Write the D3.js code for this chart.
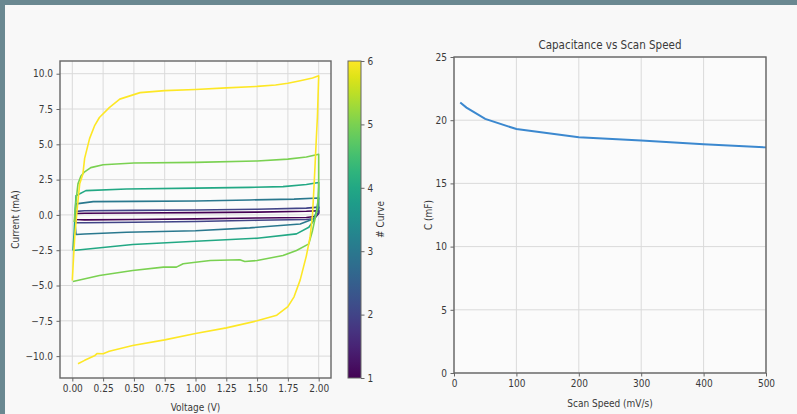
<!DOCTYPE html>
<html>
<head>
<meta charset="utf-8">
<script src="https://cdn.jsdelivr.net/npm/d3@7"></script>
<style>
  html, body { margin: 0; padding: 0; background: #f8f8f8; }
  svg { display: block; }
  text { font-family: "DejaVu Sans", sans-serif; font-stretch: condensed; fill: #3a3a3a; }
</style>
</head>
<body>
<svg id="chart" width="797" height="414"></svg>
<script>
// --- DATA --------------------------------------------------------------------
// CV loops, [voltage V, current mA], one per curve number
const cv1 = [[0.02,-0.05],[0.03,0.1],[0.1,0.12],[0.5,0.14],[1.0,0.16],[1.5,0.2],[1.9,0.26],[2.0,0.3],
  [2.0,0.1],[1.98,-0.1],[1.9,-0.18],[1.5,-0.22],[1.0,-0.28],[0.5,-0.32],[0.1,-0.35],[0.03,-0.33],[0.02,-0.05]];
const cv2 = [[0.02,-0.1],[0.03,0.25],[0.1,0.3],[0.5,0.32],[1.0,0.35],[1.5,0.4],[1.9,0.48],[2.0,0.55],
  [2.0,0.2],[1.97,-0.25],[1.9,-0.32],[1.5,-0.38],[1.0,-0.47],[0.5,-0.52],[0.1,-0.56],[0.03,-0.55],[0.02,-0.1]];
const cv3 = [[0.02,-0.4],[0.03,0.78],[0.17,0.94],[0.5,0.96],[1.0,0.98],[1.44,1.06],[1.8,1.12],[2.0,1.2],
  [2.0,0.5],[1.96,-0.28],[1.85,-0.64],[1.44,-0.92],[1.0,-1.12],[0.44,-1.23],[0.1,-1.35],[0.03,-1.39],[0.02,-0.4]];
const cv4 = [[0.005,-2.52],[0.015,-1.2],[0.025,0.6],[0.03,1.36],[0.11,1.72],[0.44,1.84],[1.0,1.9],[1.44,1.95],[1.71,2.0],[1.9,2.15],[2.0,2.3],
  [2.0,1.2],[1.98,0.2],[1.96,-0.4],[1.92,-0.87],[1.82,-1.34],[1.5,-1.65],[1.0,-1.86],[0.49,-2.1],[0.005,-2.52]];
const cv5 = [[0.015,-0.5],[0.03,1.0],[0.046,2.2],[0.07,2.75],[0.1,3.05],[0.15,3.35],[0.25,3.55],[0.5,3.68],[1.0,3.72],[1.5,3.82],[1.75,3.95],[1.9,4.1],[2.0,4.3],
  [2.0,2.0],[1.99,0.5],[1.97,-0.3],[1.95,-1.1],[1.92,-2.05],[1.82,-2.52],[1.71,-2.88],[1.5,-3.23],[1.4,-3.3],[1.36,-3.18],[1.12,-3.23],[1.0,-3.35],[0.9,-3.46],[0.845,-3.7],[0.74,-3.7],[0.49,-3.94],[0.22,-4.29],[0.005,-4.71]];
const cv6 = [[0.0,-4.65],[0.01,-3.0],[0.02,-1.5],[0.035,0],[0.046,1.0],[0.06,2.2],[0.086,2.9],[0.1,4.0],[0.14,5.4],[0.18,6.3],[0.22,6.9],[0.3,7.6],[0.385,8.2],[0.55,8.66],[0.75,8.8],[1.0,8.88],[1.25,9.0],[1.5,9.1],[1.65,9.2],[1.75,9.32],[1.85,9.5],[1.95,9.7],[2.0,9.85],
  [1.99,7.0],[1.98,5.25],[1.965,2.5],[1.95,0],[1.93,-1.58],[1.9,-2.9],[1.85,-4.6],[1.8,-5.8],[1.75,-6.5],[1.66,-7.1],[1.5,-7.5],[1.25,-8.0],[1.0,-8.4],[0.75,-8.85],[0.49,-9.25],[0.3,-9.65],[0.25,-9.83],[0.2,-9.82],[0.18,-9.98],[0.1,-10.3],[0.046,-10.54]];
const cvCurves = [cv1, cv2, cv3, cv4, cv5, cv6];
const curveIds = [1, 2, 3, 4, 5, 6];

const cvXTicks = [0, 0.25, 0.5, 0.75, 1.0, 1.25, 1.5, 1.75, 2.0];
const cvYTicks = [-10, -7.5, -5, -2.5, 0, 2.5, 5, 7.5, 10];

// capacitance vs scan speed
const scanSpeed = [10, 20, 50, 100, 200, 300, 400, 500];
const capacitance = [21.4, 21.0, 20.1, 19.3, 18.65, 18.4, 18.1, 17.85];
const capXTicks = [0, 100, 200, 300, 400, 500];
const capYTicks = [0, 5, 10, 15, 20, 25];

// --- STYLE -------------------------------------------------------------------
const GRID = '#dadada';
const SPINE = '#666';
const TICK_FS = 10;
const LABEL_FS = 10;

const svg = d3.select('#chart');
const fmtMinus = s => s.replace('-', '\u2212');

// page frame
svg.append('rect').attr('width', 797).attr('height', 414).attr('fill', '#f8f8f8');
svg.append('rect').attr('width', 797).attr('height', 5).attr('fill', '#6a8891');
svg.append('rect').attr('width', 5).attr('height', 414).attr('fill', '#6a8891');

function drawAxes(x, y, xTicks, yTicks, xFmt, yFmt) {
  const [x0, x1] = x.range(), [y0, y1] = y.range();
  const g = svg.append('g');
  g.append('rect').attr('x', x0).attr('y', y1).attr('width', x1 - x0).attr('height', y0 - y1).attr('fill', '#fbfbfb');
  g.selectAll('line.gx').data(xTicks).join('line')
    .attr('x1', d => x(d)).attr('x2', d => x(d)).attr('y1', y1).attr('y2', y0)
    .attr('stroke', GRID).attr('stroke-width', 1);
  g.selectAll('line.gy').data(yTicks).join('line')
    .attr('class', 'gy')
    .attr('y1', d => y(d)).attr('y2', d => y(d)).attr('x1', x0).attr('x2', x1)
    .attr('stroke', GRID).attr('stroke-width', 1);

  const ax = svg.append('g').attr('transform', `translate(0,${y0})`)
    .call(d3.axisBottom(x).tickValues(xTicks).tickFormat(xFmt).tickSize(3.5).tickPadding(3.5));
  const ay = svg.append('g').attr('transform', `translate(${x0},0)`)
    .call(d3.axisLeft(y).tickValues(yTicks).tickFormat(yFmt).tickSize(3.5).tickPadding(3.5));
  [ax, ay].forEach(a => {
    a.select('.domain').remove();
    a.selectAll('line').attr('stroke', SPINE);
    a.selectAll('text').attr('font-size', TICK_FS).attr('font-family', null).attr('fill', null);
  });
  return g;
}

function drawFrame(x, y) {
  const [x0, x1] = x.range(), [y0, y1] = y.range();
  svg.append('rect').attr('x', x0).attr('y', y1).attr('width', x1 - x0).attr('height', y0 - y1)
    .attr('fill', 'none').attr('stroke', SPINE).attr('stroke-width', 1.4);
}

// --- LEFT: CV curves ---------------------------------------------------------
const xCv = d3.scaleLinear().domain([-0.1, 2.1]).range([60, 331]);
const yCv = d3.scaleLinear().domain([-11.55, 10.9]).range([378, 61]);
const color = d3.scaleSequential(d3.interpolateViridis).domain([1, 6]);

drawAxes(xCv, yCv, cvXTicks, cvYTicks, d3.format('.2f'), d => fmtMinus(d3.format('.1f')(d)));

const cvLine = d3.line().x(d => xCv(d[0])).y(d => yCv(d[1])).curve(d3.curveMonotoneY === undefined ? d3.curveLinear : d3.curveLinear);
svg.append('g').selectAll('path').data(cvCurves).join('path')
  .attr('d', cvLine)
  .attr('fill', 'none')
  .attr('stroke', (d, i) => color(curveIds[i]))
  .attr('stroke-width', 1.6)
  .attr('stroke-linejoin', 'round');

drawFrame(xCv, yCv);

svg.append('text').attr('x', 195.5).attr('y', 411).attr('text-anchor', 'middle')
  .attr('font-size', LABEL_FS).text('Voltage (V)');
svg.append('text').attr('transform', 'translate(19,219.5) rotate(-90)').attr('text-anchor', 'middle')
  .attr('font-size', LABEL_FS).text('Current (mA)');

// colorbar
const cbY = d3.scaleLinear().domain([1, 6]).range([378, 61]);
const grad = svg.append('defs').append('linearGradient').attr('id', 'viridis')
  .attr('x1', 0).attr('y1', 1).attr('x2', 0).attr('y2', 0);
d3.range(0, 1.0001, 0.05).forEach(t => {
  grad.append('stop').attr('offset', t).attr('stop-color', d3.interpolateViridis(t));
});
svg.append('rect').attr('x', 348).attr('y', 61).attr('width', 13).attr('height', 317)
  .attr('fill', 'url(#viridis)').attr('stroke', SPINE).attr('stroke-width', 1);
const cbAxis = svg.append('g').attr('transform', 'translate(361,0)')
  .call(d3.axisRight(cbY).tickValues(curveIds).tickFormat(d3.format('d')).tickSize(3.5).tickPadding(3));
cbAxis.select('.domain').remove();
cbAxis.selectAll('line').attr('stroke', SPINE);
cbAxis.selectAll('text').attr('font-size', TICK_FS).attr('font-family', null).attr('fill', null);
svg.append('text').attr('transform', 'translate(384,219.5) rotate(-90)').attr('text-anchor', 'middle')
  .attr('font-size', LABEL_FS).text('# Curve');

// --- RIGHT: capacitance vs scan speed -----------------------------------------
const xCap = d3.scaleLinear().domain([0, 500]).range([454, 766]);
const yCap = d3.scaleLinear().domain([0, 25]).range([373, 57]);

drawAxes(xCap, yCap, capXTicks, capYTicks, d3.format('d'), d3.format('d'));

svg.append('path')
  .datum(scanSpeed.map((s, i) => [s, capacitance[i]]))
  .attr('d', d3.line().x(d => xCap(d[0])).y(d => yCap(d[1])))
  .attr('fill', 'none').attr('stroke', '#3b88cf').attr('stroke-width', 2);

drawFrame(xCap, yCap);

svg.append('text').attr('x', 610).attr('y', 49).attr('text-anchor', 'middle')
  .attr('font-size', 11.5).text('Capacitance vs Scan Speed');
svg.append('text').attr('x', 610).attr('y', 407).attr('text-anchor', 'middle')
  .attr('font-size', LABEL_FS).text('Scan Speed (mV/s)');
svg.append('text').attr('transform', 'translate(432,215) rotate(-90)').attr('text-anchor', 'middle')
  .attr('font-size', LABEL_FS).text('C (mF)');
</script>
</body>
</html>
